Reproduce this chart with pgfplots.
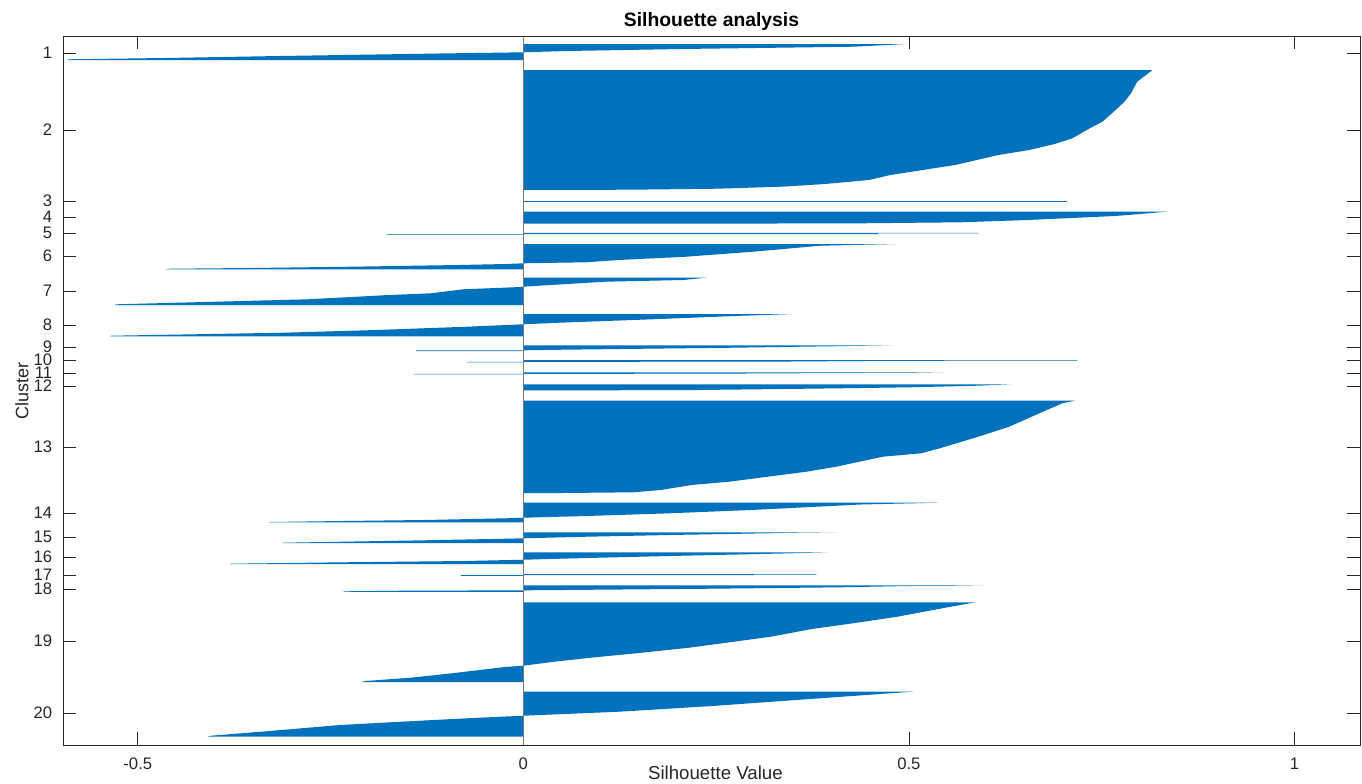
\documentclass[border=0pt]{standalone}
\usepackage{fontspec}
\setmainfont{Liberation Sans}
\usepackage{pgfplots}
\pgfplotsset{compat=1.18}
\definecolor{mblue}{RGB}{0,114,189}
\definecolor{axgray}{RGB}{38,38,38}
\definecolor{zgray}{RGB}{120,120,120}
\begin{document}
\begin{tikzpicture}
\path[use as bounding box] (-47.25pt,-28.5pt) rectangle (974.25pt,558.75pt);
\begin{axis}[
  at={(0pt,0pt)}, anchor=south west, scale only axis,
  width=972.75pt, height=531.75pt,
  xmin=-0.597, xmax=1.085, ymin=36, ymax=745, y dir=reverse,
  xtick={-0.5,0,0.5,1}, xticklabels={-0.5,0,0.5,1},
  ytick={53,130,201,217,233,256,291,325,347,360,373,386,447,513,537,557,575,589,641,713},
  yticklabels={1,2,3,4,5,6,7,8,9,10,11,12,13,14,15,16,17,18,19,20},
  tick align=inside, major tick length=9.75pt,
  axis line style={axgray, line width=0.6pt},
  every tick/.style={axgray, line width=0.6pt},
  ticklabel style={font=\fontsize{12.5}{14}\selectfont, text=axgray},
  xticklabel style={anchor=base, yshift=-18pt, inner sep=0pt},
  yticklabel style={anchor=east, inner sep=0pt, xshift=-8pt},
  title={Silhouette analysis},
  title style={at={(axis description cs:0.5,1.0028)}, anchor=base, font=\fontsize{14.5}{16}\selectfont\bfseries, text=black},
  xlabel={Silhouette Value},
  xlabel style={at={(axis description cs:0.503,-0.048)}, anchor=base, font=\fontsize{14}{16}\selectfont, text=axgray},
  ylabel={Cluster},
  ylabel style={at={(axis description cs:-0.0316,0.5)}, anchor=center, font=\fontsize{13.5}{15}\selectfont, text=axgray},
]
% cluster 1
\addplot[fill=mblue, draw=none] coordinates {(0,44) (0.497,44) (0.428,46.7) (0.205,49) (0.056,51) (0,52.3) (-0.093,53.3) (-0.316,56) (-0.465,58) (-0.59,59.3) (-0.592,60) (0,60)} -- cycle;
% cluster 2
\addplot[fill=mblue, draw=none] coordinates {(0,70) (0.816,70) (0.8075,75) (0.796,81.7) (0.788,93.3) (0.7795,101.7) (0.768,110) (0.751,121.7) (0.7345,128.3) (0.712,138.3) (0.689,144) (0.656,150) (0.616,155) (0.588,160) (0.56,165) (0.532,168.3) (0.476,175) (0.448,180) (0.391,184) (0.335,186.7) (0.251,188.7) (0.138,189.7) (0,190)} -- cycle;
% cluster 3
\addplot[fill=mblue, draw=none] coordinates {(0,200.5) (0.705,200.5) (0.705,201.6) (0,201.6)} -- cycle;
% cluster 4
\addplot[fill=mblue, draw=none] coordinates {(0,211.5) (0.837,211.5) (0.80,214) (0.767,216) (0.654,220) (0.567,222.3) (0.437,223.3) (0.21,223.7) (0,223.7)} -- cycle;
% cluster 5
\addplot[fill=mblue, draw=none] coordinates {(0,232.8) (0.59,232.8) (0.59,233.4) (0.46,233.4) (0.46,234.0) (0,234.0) (-0.177,234.0) (-0.177,234.6) (0,234.6)} -- cycle;
% cluster 6
\addplot[fill=mblue, draw=none] coordinates {(0,244) (0.485,244) (0.385,245.7) (0.298,251.7) (0.211,256.7) (0.124,260) (0.08,262.3) (0,263.3) (-0.023,264) (-0.084,265) (-0.223,266.7) (-0.354,268) (-0.458,268.7) (-0.464,269.3) (0,269.3)} -- cycle;
% cluster 7
\addplot[fill=mblue, draw=none] coordinates {(0,277.7) (0.237,277.7) (0.207,280) (0.106,281.7) (0.035,285) (0,286.7) (-0.013,287.3) (-0.078,289.3) (-0.12,293.3) (-0.174,295) (-0.28,299.3) (-0.428,302.3) (-0.528,304.3) (-0.53,305) (0,305)} -- cycle;
% cluster 8
\addplot[fill=mblue, draw=none] coordinates {(0,314) (0.35,314) (0.285,315.7) (0.166,319.3) (0.047,322.7) (0,324.3) (-0.073,326.7) (-0.191,330) (-0.31,332.7) (-0.428,334.3) (-0.534,335.7) (-0.536,336.3) (0,336.3)} -- cycle;
% cluster 9
\addplot[fill=mblue, draw=none] coordinates {(0,345.3) (0.48,345.3) (0.422,346) (0.361,346.7) (0.272,347.7) (0.159,348.7) (0.052,349.7) (0,350.3) (-0.139,350.3) (-0.139,351) (0,351)} -- cycle;
% cluster 10
\addplot[fill=mblue, draw=none] coordinates {(0,360) (0.718,360) (0.718,360.5) (0.642,360.5) (0.44,361) (0.345,361.5) (0.1,361.8) (0,361.8) (-0.073,361.8) (-0.073,362.4) (0,362.4)} -- cycle;
% cluster 11
\addplot[fill=mblue, draw=none] coordinates {(0,372.3) (0.544,372.3) (0.505,372.8) (0.339,373.3) (0.231,373.7) (0,373.8) (-0.142,373.8) (-0.142,374.4) (0,374.4)} -- cycle;
% cluster 12
\addplot[fill=mblue, draw=none] coordinates {(0,384.3) (0.633,384.3) (0.589,385.7) (0.5,387.3) (0.41,388.3) (0.303,389.3) (0.226,390) (0.1,390.3) (0,390.3)} -- cycle;
% cluster 13
\addplot[fill=mblue, draw=none] coordinates {(0,400.7) (0.715,400.7) (0.699,403.3) (0.684,408.3) (0.664,415) (0.6495,420) (0.63,426.7) (0.61,431.7) (0.59,436.7) (0.54,448.3) (0.5155,453.3) (0.466,456.7) (0.426,463.3) (0.406,466.7) (0.367,471.7) (0.317,476.7) (0.267,481.7) (0.218,485) (0.178,490) (0.143,492.3) (0.05,493) (0,493)} -- cycle;
% cluster 14
\addplot[fill=mblue, draw=none] coordinates {(0,502.7) (0.538,502.7) (0.437,504.5) (0.295,510) (0.189,513.3) (0.082,516) (0,517.7) (-0.023,518.3) (-0.129,520) (-0.235,521) (-0.329,522) (-0.33,522.4) (0,522.4)} -- cycle;
% cluster 15
\addplot[fill=mblue, draw=none] coordinates {(0,532.3) (0.406,532.3) (0.358,532.7) (0.189,535) (0.082,536.7) (0,538.3) (-0.023,538.7) (-0.129,540.3) (-0.235,541.7) (-0.312,542.7) (-0.312,543) (0,543)} -- cycle;
% cluster 16
\addplot[fill=mblue, draw=none] coordinates {(0,552.3) (0.396,552.3) (0.347,553.3) (0.189,556) (0.082,558) (0,559.7) (-0.076,561) (-0.235,562.3) (-0.38,563.7) (-0.38,564.2) (0,564.2)} -- cycle;
% cluster 17
\addplot[fill=mblue, draw=none] coordinates {(0,574.2) (0.38,574.2) (0.38,574.6) (0.299,574.6) (0.299,575) (0.102,575) (0,575.2) (-0.081,575.2) (-0.081,575.8) (0,575.8)} -- cycle;
% cluster 18
\addplot[fill=mblue, draw=none] coordinates {(0,585.3) (0.596,585.3) (0.568,585.7) (0.5,586) (0.41,587.3) (0.243,588.7) (0.052,590) (0,590.3) (-0.157,590.7) (-0.233,591.3) (-0.233,591.8) (0,591.8)} -- cycle;
% cluster 19
\addplot[fill=mblue, draw=none] coordinates {(0,602.3) (0.586,602.3) (0.543,608.3) (0.485,616.7) (0.43,623) (0.374,629) (0.321,636.7) (0.27,642) (0.215,647.7) (0.146,653.3) (0.09,657.5) (0.04,661.7) (0,665.7) (-0.024,667) (-0.093,673.3) (-0.146,677.7) (-0.205,681) (-0.21,682) (0,682)} -- cycle;
% cluster 20
\addplot[fill=mblue, draw=none] coordinates {(0,691.7) (0.505,691.7) (0.426,696) (0.366,699.3) (0.245,706) (0.124,711.7) (0,715.7) (-0.057,717.7) (-0.117,720) (-0.238,725) (-0.329,731) (-0.405,735.7) (-0.41,736.7) (0,736.7)} -- cycle;
% zero baseline
\addplot[zgray, line width=0.6pt] coordinates {(0,36) (0,745)};
\end{axis}
\end{tikzpicture}
\end{document}
